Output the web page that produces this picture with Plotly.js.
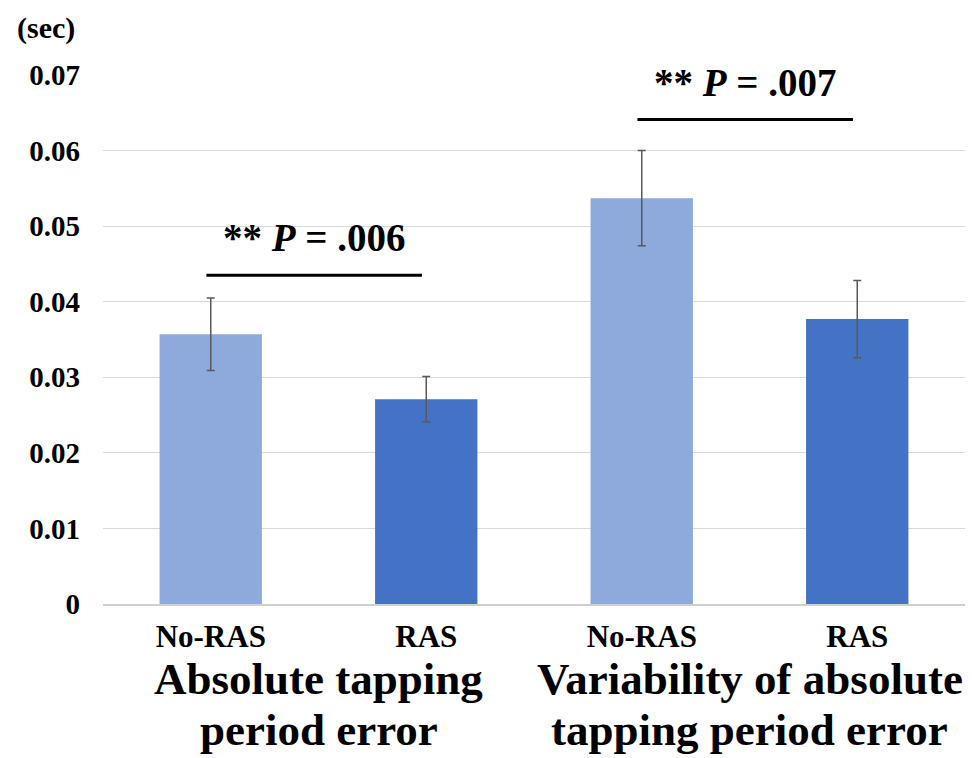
<!DOCTYPE html>
<html>
<head>
<meta charset="utf-8">
<script src="https://cdn.plot.ly/plotly-3.0.1.min.js"></script>
<style>html,body{margin:0;padding:0;background:#fff;}#chart{width:972px;height:758px;}</style>
</head>
<body>
<div id="chart"></div>
<script>
// Data
const categories = ["No-RAS", "RAS", "No-RAS", "RAS"];
const groupLabels = [["Absolute tapping", "period error"], ["Variability of absolute", "tapping period error"]];
const means = [0.0357, 0.0271, 0.0537, 0.0377];
const errors = [0.0048, 0.0030, 0.0063, 0.0051];
const barColors = ["#8EA9DB", "#4472C4", "#8EA9DB", "#4472C4"];
const sigPairs = [[0, 1], [2, 3]];
const sigLineY = [0.0435, 0.0641];
const sigLabels = ["** <i>P</i> = .006", "** <i>P</i> = .007"];
const yTicks = [0, 0.01, 0.02, 0.03, 0.04, 0.05, 0.06, 0.07];
const yTickText = ["0", "0.01", "0.02", "0.03", "0.04", "0.05", "0.06", "0.07"];
const unitLabel = "(sec)";

const FONT = "Liberation Serif, Times New Roman, serif";
const xIdx = categories.map((_, i) => i);

const trace = {
  type: "bar",
  x: xIdx,
  y: means,
  marker: { color: barColors },
  error_y: { type: "data", array: errors, visible: true, color: "#595959", thickness: 1.5, width: 4 },
  hoverinfo: "skip"
};

const shapes = sigPairs.map((p, i) => ({
  type: "line", xref: "x", yref: "y",
  x0: p[0] - 0.02, x1: p[1] - 0.02, y0: sigLineY[i], y1: sigLineY[i],
  line: { color: "#000", width: 3 }
}));

const annotations = [];
sigPairs.forEach((p, i) => {
  annotations.push({
    xref: "x", yref: "y", x: (p[0] + p[1]) / 2 - 0.02, y: sigLineY[i],
    yshift: 14, yanchor: "bottom", xanchor: "center", showarrow: false,
    text: "<b>" + sigLabels[i] + "</b>",
    font: { family: FONT, size: 39, color: "#000" }
  });
});
const lineYs = [-0.1418, -0.2382];
groupLabels.forEach((g, i) => {
  g.forEach((line, j) => {
    annotations.push({
      xref: "x", yref: "paper", x: i * 2 + 0.5, y: lineYs[j], yanchor: "middle", xanchor: "center", showarrow: false,
      text: "<b>" + line + "</b>",
      font: { family: FONT, size: 45, color: "#000" }
    });
  });
});
annotations.push({
  xref: "paper", yref: "paper", x: -0.066, y: 1.089, xanchor: "center", yanchor: "middle", showarrow: false,
  text: "<b>" + unitLabel + "</b>",
  font: { family: FONT, size: 30, color: "#000" }
});

const layout = {
  width: 972, height: 758,
  margin: { l: 103, r: 7, t: 75, b: 154 },
  paper_bgcolor: "#fff", plot_bgcolor: "#fff",
  showlegend: false,
  bargap: 0.525,
  xaxis: {
    range: [-0.5, 3.5],
    tickvals: xIdx, ticktext: categories.map(c => "<b>" + c + "</b>"),
    tickfont: { family: FONT, size: 31, color: "#000" },
    showgrid: false, zeroline: false,
    showline: true, linecolor: "#d0d0d0", linewidth: 1.5,
    ticks: "", ticklabelstandoff: 4
  },
  yaxis: {
    range: [0, 0.07],
    tickvals: yTicks, ticktext: yTickText.map(t => "<b>" + t + "</b>"),
    tickfont: { family: FONT, size: 29, color: "#000" },
    showgrid: true, gridcolor: "#d9d9d9", gridwidth: 1,
    zeroline: false, showline: false, ticks: "",
    ticklabelstandoff: 22
  },
  shapes: shapes,
  annotations: annotations
};

Plotly.newPlot("chart", [trace], layout, { displayModeBar: false, staticPlot: true });
</script>
</body>
</html>
